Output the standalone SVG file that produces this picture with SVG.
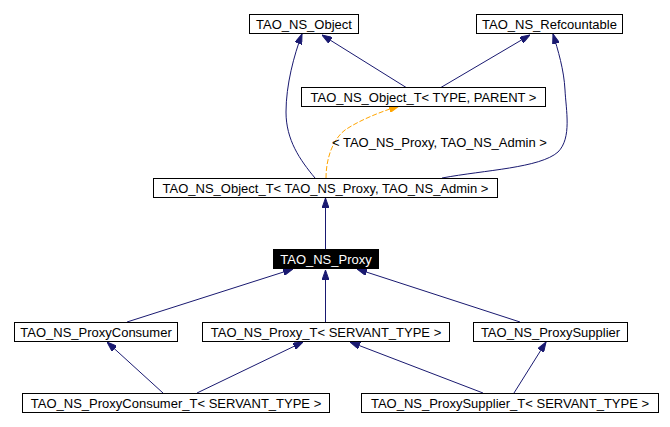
<svg xmlns="http://www.w3.org/2000/svg" width="670" height="427" viewBox="0 0 670 427">
<style>
  .box { fill: #ffffff; stroke: #000000; stroke-width: 1; }
  .sel { fill: #000000; stroke: #000000; stroke-width: 1; }
  text { font-family: "Liberation Sans", Arial, sans-serif; font-size: 13px; text-anchor: middle; fill: #000000; }
  .white { fill: #ffffff; }
  .edge { fill: none; stroke: #191970; stroke-width: 1; marker-end: url(#arr); }
  .tmpl { fill: none; stroke: #ffa500; stroke-width: 1; stroke-dasharray: 5,2; marker-end: url(#arrO); }
  .lbl { text-anchor: start; }
</style>
<defs>
  <marker id="arr" viewBox="0 0 10 7" refX="10" refY="3.5" markerWidth="10" markerHeight="7" markerUnits="userSpaceOnUse" orient="auto">
    <path d="M0,0 L10,3.5 L0,7 z" fill="#191970" stroke="#191970"/>
  </marker>
  <marker id="arrO" viewBox="0 0 10 7" refX="10" refY="3.5" markerWidth="10" markerHeight="7" markerUnits="userSpaceOnUse" orient="auto">
    <path d="M0,0 L10,3.5 L0,7 z" fill="#ffa500" stroke="#ffa500"/>
  </marker>
</defs>
<rect width="670" height="427" fill="#ffffff"/>
<g id="edges">
  <path class="edge" d="M407,88 L322,35"/>
  <path class="edge" d="M440,88 L530,35"/>
  <path class="edge" d="M315,178 C300,160 286,140 286,112 C286,85 294,55 302,34"/>
  <path class="edge" d="M442,178 C485,170 540,168 558,152 C572,138 566,110 565,90 C564,70 558,50 553,34"/>
  <path class="tmpl" d="M326,178 C326,160 332,140 345,130 C360,120 380,112 399,106"/>
  <text class="lbl" x="332" y="147">&lt; TAO_NS_Proxy, TAO_NS_Admin &gt;</text>
  <path class="edge" d="M325.5,249 L325.5,198"/>
  <path class="edge" d="M325.5,322 L325.5,270"/>
  <path class="edge" d="M127,322 L293,269"/>
  <path class="edge" d="M520,322 L357,269"/>
  <path class="edge" d="M163,393 L107,342"/>
  <path class="edge" d="M197,393 L303,342"/>
  <path class="edge" d="M483,393 L350,342"/>
  <path class="edge" d="M514,393 L546,342"/>
</g>
<g id="TAO_NS_Object">
  <rect class="box" x="249.5" y="14.5" width="109" height="19"/>
  <text x="304" y="28.5">TAO_NS_Object</text>
</g>
<g id="TAO_NS_Refcountable">
  <rect class="box" x="476.5" y="14.5" width="146" height="19"/>
  <text x="549.5" y="28.5">TAO_NS_Refcountable</text>
</g>
<g id="TAO_NS_Object_T_TYPE_PARENT">
  <rect class="box" x="301.5" y="87.5" width="244" height="19"/>
  <text x="423.5" y="101.5">TAO_NS_Object_T&lt; TYPE, PARENT &gt;</text>
</g>
<g id="TAO_NS_Object_T_Proxy_Admin">
  <rect class="box" x="153.5" y="178.5" width="344" height="19"/>
  <text x="325.5" y="192.5">TAO_NS_Object_T&lt; TAO_NS_Proxy, TAO_NS_Admin &gt;</text>
</g>
<g id="TAO_NS_Proxy">
  <rect class="sel" x="273.5" y="249.5" width="105" height="19"/>
  <text class="white" x="326" y="263.5">TAO_NS_Proxy</text>
</g>
<g id="TAO_NS_ProxyConsumer">
  <rect class="box" x="14.5" y="322.5" width="163" height="19"/>
  <text x="96" y="336.5">TAO_NS_ProxyConsumer</text>
</g>
<g id="TAO_NS_Proxy_T">
  <rect class="box" x="202.5" y="322.5" width="247" height="19"/>
  <text x="326" y="336.5">TAO_NS_Proxy_T&lt; SERVANT_TYPE &gt;</text>
</g>
<g id="TAO_NS_ProxySupplier">
  <rect class="box" x="473.5" y="322.5" width="154" height="19"/>
  <text x="550.5" y="336.5">TAO_NS_ProxySupplier</text>
</g>
<g id="TAO_NS_ProxyConsumer_T">
  <rect class="box" x="22.5" y="393.5" width="307" height="19"/>
  <text x="176" y="407.5">TAO_NS_ProxyConsumer_T&lt; SERVANT_TYPE &gt;</text>
</g>
<g id="TAO_NS_ProxySupplier_T">
  <rect class="box" x="361.5" y="393.5" width="297" height="19"/>
  <text x="510" y="407.5">TAO_NS_ProxySupplier_T&lt; SERVANT_TYPE &gt;</text>
</g>
</svg>
